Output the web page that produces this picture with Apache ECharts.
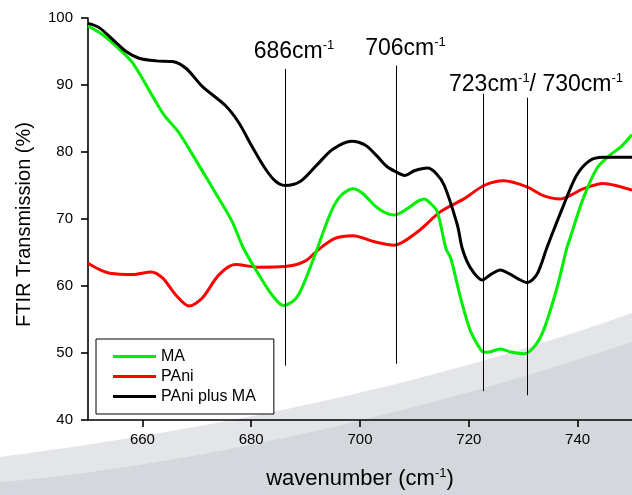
<!DOCTYPE html>
<html>
<head>
<meta charset="utf-8">
<script src="https://cdn.jsdelivr.net/npm/echarts@6/dist/echarts.min.js"></script>
<style>
html,body{margin:0;padding:0;background:#fff;}
#chart{width:632px;height:495px;}
</style>
</head>
<body>
<div id="chart"></div>
<script>
// ---- data ----
var maData = [
  [650,98.8],[652.5,97.6],[655.2,95.75],[658.2,93.3],[661.9,88.3],[664,85.5],[666.7,82.9],
  [670.4,78.0],[674.1,73.0],[676.5,69.6],[678.6,65.6],[681.4,61.7],[683.8,58.7],[685.9,57.1],
  [687.5,57.6],[688.7,58.7],[690,61.0],[691.7,64.6],[694.7,71.1],[696.5,73.5],[698.7,74.5],
  [700.5,73.8],[702.7,72.0],[704.5,71.0],[706.3,70.6],[708.8,71.6],[710.5,72.6],[711.8,73.0],
  [713,72.3],[714.2,71.1],[715.8,65.6],[716.7,64.1],[718.5,58.2],[720.3,53.3],[722.1,50.6],
  [722.8,50.1],[724,50.2],[725.8,50.6],[727.5,50.2],[730.1,49.9],[731.9,50.8],[733.7,53.3],
  [736.2,59.7],[738,65.6],[738.6,67.1],[741,73.0],[743.5,77.5],[745.9,79.5],[748,80.8],[750,82.6]
];
var paniData = [
  [650,63.4],[652,62.5],[654,61.9],[658.2,61.7],[661.6,62.1],[663.7,61.2],[666.1,58.7],
  [668.6,57.0],[671,58.2],[674.1,61.7],[677.1,63.2],[681.4,62.8],[686.2,62.9],[689.9,63.7],
  [692.3,65.4],[695.4,67.1],[698.7,67.5],[702.7,66.6],[706.3,66.1],[710.6,68.1],[714.8,71.1],
  [719.1,73.0],[722.8,75.0],[726.4,75.7],[730.7,74.8],[733.7,73.5],[736.8,73.0],[741,74.5],
  [744.7,75.3],[747,75.0],[750,74.3]
];
var paniMaData = [
  [650,99.2],[652,98.6],[655.2,96.3],[657,95.0],[659.4,94.0],[662.5,93.6],[665.5,93.5],
  [668,92.5],[671,89.8],[675.3,86.9],[677.7,84.4],[680.1,80.9],[682.6,77.5],[684.5,75.6],
  [686.2,75.0],[689,75.6],[692,78.0],[695,80.4],[698.5,81.6],[701,81.0],[703,79.5],[705,77.8],
  [706.7,77.0],[708.2,76.5],[710,77.2],[712.4,77.6],[714,76.8],[715.5,75.0],[717.9,69.1],
  [718.8,65.6],[720.3,62.7],[722.5,60.9],[724,61.7],[725.8,62.4],[727.5,61.8],[729,61.1],
  [730.7,60.5],[732.5,61.7],[734.3,65.6],[735,67.1],[737.4,72.0],[739.8,76.5],[742.2,78.7],
  [744.7,79.2],[747,79.2],[750,79.2]
];
var seriesNames = ['MA', 'PAni', 'PAni plus MA'];
var xTicks = [660, 680, 700, 720, 740];
// annotation lines: position, top, bottom, label
var peakPos = [686.2, 706.7, 722.6, 730.7];
var peakTop = [92.4, 92.9, 88.7, 88.1];
var peakBottom = [48.1, 48.4, 44.3, 43.7];
var peakLabels = [['686'], ['706'], [], ['723', '730']];

// ---- chart ----
var FONT = 'Liberation Sans, Arial, sans-serif';
var chart = echarts.init(document.getElementById('chart'));

// decorative background swoosh (not data)
function swoosh(p0, c1, c2, p3) {
  var pts = [];
  for (var i = 0; i <= 40; i++) {
    var t = i / 40, u = 1 - t;
    pts.push([
      u*u*u*p0[0] + 3*u*u*t*c1[0] + 3*u*t*t*c2[0] + t*t*t*p3[0],
      u*u*u*p0[1] + 3*u*u*t*c1[1] + 3*u*t*t*c2[1] + t*t*t*p3[1]
    ]);
  }
  pts.push([632, 495]); pts.push([0, 495]);
  return pts;
}

var supRich = {
  a: {fontSize: 23, fontFamily: FONT, color: '#000', lineHeight: 26},
  s: {fontSize: 13, fontFamily: FONT, color: '#000', verticalAlign: 'top', lineHeight: 26}
};
function labelText(list) {
  return list.map(function (v) { return '{a|' + v + 'cm}{s|-1}'; }).join('{a|/ }');
}

var markData = peakPos.map(function (p, i) {
  var lbl = peakLabels[i];
  var from = {coord: [p, peakTop[i]]};
  if (lbl.length) {
    from.label = {
      show: true,
      position: 'start',
      formatter: labelText(lbl),
      rich: supRich,
      distance: lbl.length > 1 ? 0 : 4,
      offset: [9, 0]
    };
  } else {
    from.label = {show: false};
  }
  return [from, {coord: [p, peakBottom[i]]}];
});

var option = {
  backgroundColor: '#fff',
  animation: false,
  graphic: [
    {type: 'polygon', z: -10, silent: true,
     shape: {points: swoosh([0,457],[190,432],[410,392],[632,313])},
     style: {fill: '#e3e5e8'}},
    {type: 'polygon', z: -9, silent: true,
     shape: {points: swoosh([0,482],[170,468],[400,420],[632,342])},
     style: {fill: '#d4d7db'}}
  ],
  grid: {left: 88, top: 18, width: 547.5, height: 405},
  legend: {
    data: seriesNames,
    orient: 'vertical',
    left: 96, top: 339,
    padding: [9, 18, 9, 17],
    borderColor: '#000', borderWidth: 1,
    backgroundColor: '#fff',
    icon: 'rect',
    itemWidth: 43, itemHeight: 3,
    itemGap: 3,
    itemTextGap: 4,
    textStyle: {fontSize: 16, fontFamily: FONT, color: '#000', lineHeight: 17}
  },
  xAxis: {
    type: 'value', min: 650, max: 750,
    name: 'wavenumber (cm{s|-1})',
    nameLocation: 'middle', nameGap: 47,
    nameTextStyle: {
      fontSize: 22, fontFamily: FONT, color: '#000',
      rich: {s: {fontSize: 13, fontFamily: FONT, color: '#000', verticalAlign: 'top', lineHeight: 24}}
    },
    splitLine: {show: false},
    axisLine: {lineStyle: {color: '#000', width: 1.6}},
    axisTick: {customValues: xTicks, length: 7, inside: false, lineStyle: {color: '#000', width: 1.6}},
    axisLabel: {customValues: xTicks, fontSize: 15, fontFamily: FONT, color: '#000', margin: 12}
  },
  yAxis: {
    type: 'value', min: 40, max: 100, interval: 10,
    name: 'FTIR Transmission (%)',
    nameLocation: 'middle', nameGap: 54, nameRotate: 90,
    nameTextStyle: {fontSize: 20, fontFamily: FONT, color: '#000', padding: [0, 11, 0, 0]},
    splitLine: {show: false},
    axisLine: {show: true, lineStyle: {color: '#000', width: 1.6}},
    axisTick: {show: true, length: 7, lineStyle: {color: '#000', width: 1.6}},
    axisLabel: {fontSize: 15, fontFamily: FONT, color: '#000', margin: 15}
  },
  series: [
    {name: seriesNames[0], type: 'line', data: maData, smooth: 0.3,
     showSymbol: false, symbol: 'none', color: '#00ee00',
     itemStyle: {color: '#00ee00'}, lineStyle: {color: '#00ee00', width: 3}, z: 3},
    {name: seriesNames[1], type: 'line', data: paniData, smooth: 0.3,
     showSymbol: false, symbol: 'none', color: '#ff0000',
     itemStyle: {color: '#ff0000'}, lineStyle: {color: '#ff0000', width: 3}, z: 2},
    {name: seriesNames[2], type: 'line', data: paniMaData, smooth: 0.3,
     showSymbol: false, symbol: 'none', color: '#000000',
     itemStyle: {color: '#000000'}, lineStyle: {color: '#000000', width: 3}, z: 4,
     markLine: {
       silent: true, symbol: ['none', 'none'], animation: false,
       lineStyle: {color: '#000', width: 1, type: 'solid'},
       emphasis: {disabled: true},
       data: markData
     }}
  ]
};
chart.setOption(option);
</script>
</body>
</html>
